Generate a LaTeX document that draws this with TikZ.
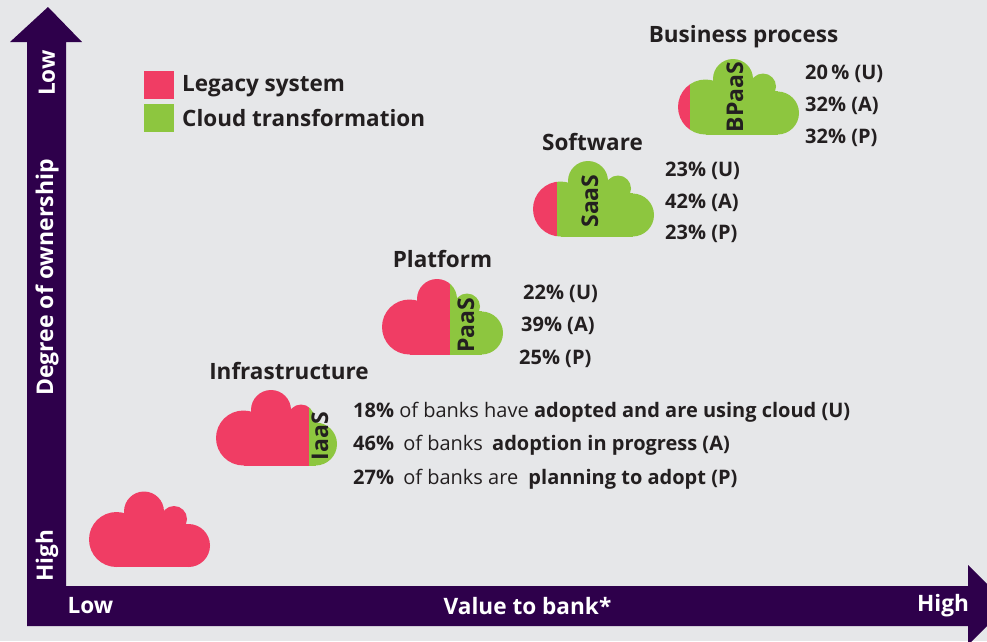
\documentclass[tikz,border=0pt]{standalone}
\usepackage{fontspec}
\setmainfont{Open Sans}
\definecolor{paper}{HTML}{E6E7E9}
\definecolor{axis}{HTML}{2E004B}
\definecolor{legacy}{HTML}{F03D64}
\definecolor{transform}{HTML}{8DC63F}
\definecolor{ink}{HTML}{231F20}
\newcommand{\lobes}[1]{
    \fill[#1] (27.5,48) circle [radius=27.5];
    \fill[#1] (99.5,54) circle [radius=21.5];
    \fill[#1] (55,20) circle [radius=20];
    \fill[#1] (85,27.5) circle [radius=13];
    \fill[#1] (27.5,32) rectangle (99.5,75.5);
    \fill[#1] (37,22) rectangle (90,75.5);
}
\newcommand{\cloud}[3]{
    \begin{scope}[shift={(#1,#2)}]
        \begin{scope}
            \clip (-1,-1) rectangle (#3,77);
            \lobes{legacy}
        \end{scope}
        \begin{scope}
            \clip (#3,-1) rectangle (122,77);
            \lobes{transform}
        \end{scope}
    \end{scope}
}
\tikzset{
    title/.style={font=\fontsize{22.5}{26}\selectfont\bfseries, text=ink, inner sep=0pt},
    share/.style={font=\fontsize{20}{24}\selectfont\bfseries, text=ink, inner sep=0pt, anchor=west},
    service/.style={font=\fontsize{23}{26}\selectfont\bfseries, text=ink, inner sep=0pt, rotate=90},
    scale label/.style={font=\fontsize{22.6}{26}\selectfont\bfseries, text=white, inner sep=0pt},
}
\begin{document}
\begin{tikzpicture}
    [x=1pt,y=-1pt]
    \useasboundingbox (0,0) rectangle (987,641);
    \clip (0,0) rectangle (987,641);
    \fill[paper] (0,0) rectangle (987,641);
    \fill[axis] (48,7) -- (82,42) -- (66,42) -- (66,586) -- (968,586) -- (968,565)
        -- (1008,605) -- (968,645) -- (968,626) -- (27,626) -- (27,42) -- (10,42) -- cycle;
    \node[scale label, rotate=90] (ylow) at (47,73) {Low};
    \node[scale label, rotate=90, font=\fontsize{23}{26}\selectfont\bfseries] (yname) at (47,277.5) {Degree of ownership};
    \node[scale label, rotate=90] (yhigh) at (47,556) {High};
    \node[scale label] (xlow) at (90.5,606) {Low};
    \node[scale label] (xname) at (527.5,606) {Value to bank*};
    \node[scale label] (xhigh) at (943,606) {High};

    \fill[legacy] (144,71) rectangle (174,99);
    \fill[transform] (144,104) rectangle (174,132);
    \node[title, anchor=west] (legacytext) at (182,86) {Legacy system};
    \node[title, anchor=west] (cloudtext) at (182,118) {Cloud transformation};

    \cloud{89}{491.5}{122}
    \cloud{216}{390}{93}
    \cloud{382}{279}{68}
    \cloud{533}{161}{24}
    \cloud{678}{59}{12}

    \node[title] (infra) at (289,371) {Infrastructure};
    \node[title] (platform) at (442.5,259) {Platform};
    \node[title] (software) at (592.5,142) {Software};
    \node[title] (business) at (743.5,37) {Business process};

    \node[service] (iaas) at (320,436) {IaaS};
    \node[service] (paas) at (466,325) {PaaS};
    \node[service] (saas) at (590,201) {SaaS};
    \node[service] (bpaas) at (735,97) {BPaaS};

    \node[share] (iu) at (353,412) {18\% \mdseries of banks have \bfseries adopted and are using cloud (U)};
    \node[share] (ia) at (353,445) {46\%\hspace{4pt} \mdseries of banks\hspace{4pt} \bfseries adoption in progress (A)};
    \node[share] (ip) at (353,479) {27\%\hspace{4pt} \mdseries of banks are\hspace{5pt} \bfseries planning to adopt (P)};

    \node[share] (pu) at (523,294) {22\% (U)};
    \node[share] (pa) at (521,326) {39\% (A)};
    \node[share] (pp) at (519,359) {25\% (P)};

    \node[share] (su) at (665,171) {23\% (U)};
    \node[share] (sa) at (665,203) {42\% (A)};
    \node[share] (sp) at (665,234) {23\% (P)};

    \node[share] (bu) at (805,74) {20\,\% (U)};
    \node[share] (ba) at (805,106) {32\% (A)};
    \node[share] (bp) at (805,138) {32\% (P)};
\end{tikzpicture}
\end{document}
